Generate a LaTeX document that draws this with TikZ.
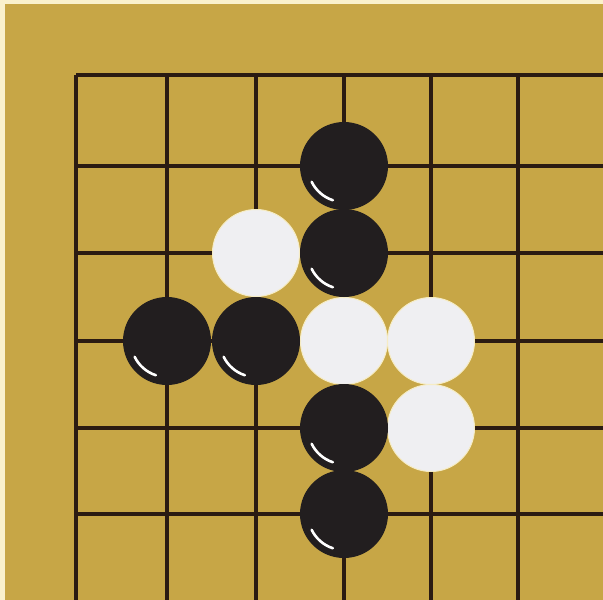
\documentclass[tikz,border=0pt]{standalone}
\usepackage{tikz}
\usetikzlibrary{calc}
\definecolor{gboard}{HTML}{C7A646}
\definecolor{gedge}{HTML}{FAF1CC}
\definecolor{gline}{HTML}{2B1B12}
\definecolor{gblack}{HTML}{221E1F}
\definecolor{gwhite}{HTML}{EFEFF2}
\definecolor{gwrim}{HTML}{F6ECC4}
\tikzset{
  gridln/.style={draw=gline, line width=3.2pt},
  bstone/.style={circle, fill=gblack, minimum size=88pt, inner sep=0pt},
  wstone/.style={circle, fill=gwhite, draw=gwrim, line width=1pt, minimum size=87pt, inner sep=0pt},
  shine/.style={draw=white, line width=2.6pt, line cap=round}
}

\begin{document}
\begin{tikzpicture}[x=1pt,y=1pt]

% board
\fill[gedge] (0,0) rectangle (603,-600);
\fill[gboard] (5,-4) rectangle (603,-600);
\useasboundingbox (0,0) rectangle (603,-600);

% grid points
\foreach \px [count=\i from 0] in {76,167,256,344,431,518}
  \foreach \py [count=\j from 0] in {75,166,253,341,428,514}
    \coordinate (p-\i-\j) at (\px,-\py);

\foreach \i in {0,...,5}
  \draw[gridln] (p-\i-0) -- (p-\i-0 |- 0,-600);
\foreach \j in {0,...,5}
  \draw[gridln] (p-0-\j) -- (p-0-\j -| 603,0);

% stones
\node[wstone] (w1) at (p-2-2) {};
\node[wstone] (w2) at (p-3-3) {};
\node[wstone] (w3) at (p-4-3) {};
\node[wstone] (w4) at (p-4-4) {};

\foreach \i/\j [count=\k] in {3/1,3/2,1/3,2/3,3/4,3/5}{
  \node[bstone] (b\k) at (p-\i-\j) {};
  \draw[shine] ($(b\k)+(206:36pt)$) arc[start angle=206, end angle=252, radius=36pt];
}

\end{tikzpicture}
\end{document}
